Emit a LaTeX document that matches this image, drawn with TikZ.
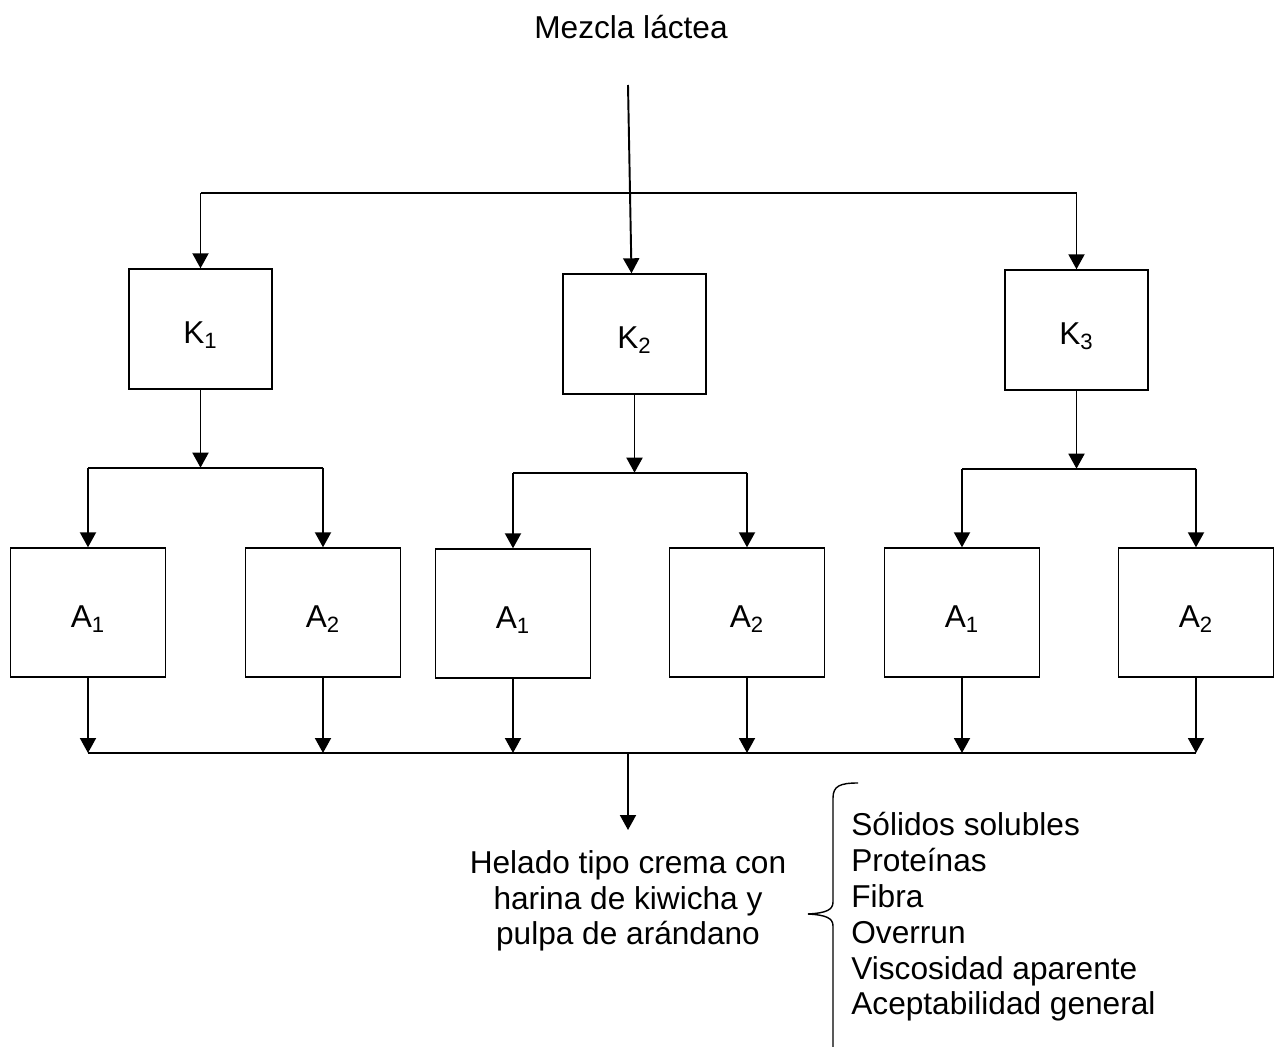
\documentclass[tikz,border=0pt]{standalone}
\usepackage{fontspec}
\setmainfont{Liberation Sans}
\usetikzlibrary{arrows.meta}

\begin{document}
\begin{tikzpicture}[x=0.02cm,y=-0.02cm,
    font=\fontsize{18}{20.4}\selectfont,
    caja/.style={draw,line width=0.8pt,inner sep=0pt,text height=17pt,text depth=0pt},
    kcaja/.style={caja,minimum width=2.86cm,minimum height=2.4cm},
    acaja/.style={caja,minimum width=3.1cm,minimum height=2.58cm},
    flecha/.style={line width=1.1pt,-{Triangle[length=0.3cm,width=0.32cm]}},
    linea/.style={line width=1.1pt}]
        \useasboundingbox (0,0) rectangle (1279,1047);

        % entrada
        \node (mezcla) at (631,27) {Mezcla láctea};
        \coordinate (inicio) at (628,85);

        % primer nivel
        \node[kcaja] (k1) at (200.5,329) {K\textsubscript{1}};
        \node[kcaja] (k2) at (634.5,334) {K\textsubscript{2}};
        \node[kcaja] (k3) at (1076.5,330) {K\textsubscript{3}};

        \coordinate (r0) at (200.5,193);
        \coordinate (r1) at (1076.5,193);
        \draw[linea] (r0) -- (r1);
        \draw[flecha] (r0) -- (k1.north);
        \draw[flecha] (r1) -- (k3.north);
        \draw[flecha] (inicio) -- ([xshift=-0.06cm]k2.north);

        % segundo nivel
        \node[acaja] (a11) at (88,612.5) {A\textsubscript{1}};
        \node[acaja] (a12) at (323,612.5) {A\textsubscript{2}};
        \node[acaja] (a21) at (513,613.5) {A\textsubscript{1}};
        \node[acaja] (a22) at (747,612.5) {A\textsubscript{2}};
        \node[acaja] (a31) at (962,612.5) {A\textsubscript{1}};
        \node[acaja] (a32) at (1196,612.5) {A\textsubscript{2}};

        \foreach \k/\i/\d in {k1/a11/a12,k2/a21/a22,k3/a31/a32}{
            \coordinate (m\k) at ([yshift=-1.56cm]\k.south);
            \draw[flecha] (\k.south) -- (m\k);
            \draw[linea] (\i.north |- m\k) -- (\d.north |- m\k);
            \draw[flecha] (\i.north |- m\k) -- (\i.north);
            \draw[flecha] (\d.north |- m\k) -- (\d.north);
        }

        % salida
        \coordinate (b1) at (88,753);
        \coordinate (b2) at (1196,753);
        \draw[linea] (b1) -- (b2);
        \foreach \a in {a11,a12,a21,a22,a31,a32}
            \draw[flecha] (\a.south) -- (\a.south |- b1);

        \coordinate (salida) at (628,753);
        \node[anchor=north,align=center,inner xsep=0pt,inner ysep=0.4cm] (helado) at (628,830)
            {Helado tipo crema con\\harina de kiwicha y\\pulpa de arándano};
        \draw[flecha] (salida) -- (helado.north);

        % analisis
        \draw[line width=0.8pt] (858,783) .. controls (840,783) and (833,786) .. (833,798)
            -- (833,902) .. controls (833,910) and (826,913) .. (808,914);
        \draw[line width=0.8pt] (808,914) .. controls (826,915) and (833,918) .. (833,926)
            -- (833,1047);
        \node[anchor=north west,align=left,inner sep=0pt] (props) at (851,812)
            {Sólidos solubles\\Proteínas\\Fibra\\Overrun\\Viscosidad aparente\\Aceptabilidad general};

    \end{tikzpicture}
\end{document}
